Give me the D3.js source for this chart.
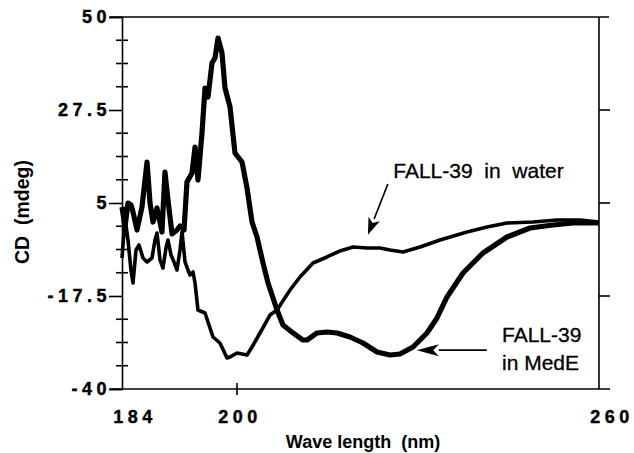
<!DOCTYPE html>
<html>
<head>
<meta charset="utf-8">
<script src="https://cdn.jsdelivr.net/npm/d3@7"></script>
<style>
  body { margin: 0; background: #fff; }
  text { font-family: Arial, "Liberation Sans", Helvetica, sans-serif; fill: #000; }
</style>
</head>
<body>
<script>
// data: wavelength (nm) / CD (mdeg)
const medeNm = [184.00,184.42,184.83,185.25,185.53,186.09,186.78,187.48,187.90,188.31,188.87,189.56,189.98,190.40,190.96,191.65,192.07,192.63,193.04,193.74,194.16,194.57,195.13,195.55,195.97,196.52,196.94,197.36,197.91,198.33,199.03,199.72,200.83,201.66,202.49,203.32,204.31,205.14,206.63,207.62,209.28,210.94,211.60,213.26,214.92,216.58,218.73,220.88,223.21,225.36,227.02,229.17,231.49,233.15,234.81,237.46,240.77,244.75,248.56,252.38,255.69,260.00];
const medeCd = [4.03,-0.81,5.0,4.52,2.82,-1.53,4.03,14.92,5.0,0.40,3.79,-2.02,12.5,5.73,-2.50,-1.53,-0.56,-1.53,10.08,12.26,18.55,10.56,21.94,32.82,30.65,38.87,40.08,44.92,41.29,32.82,28.23,17.10,14.92,8.63,0.40,-3.23,-9.52,-14.35,-20.89,-24.52,-26.45,-28.15,-28.15,-26.45,-26.21,-26.45,-27.42,-28.87,-31.05,-31.77,-31.53,-29.84,-26.45,-22.82,-17.74,-11.94,-7.10,-3.23,-1.05,-0.32,0.16,0.16];

const waterNm = [184.00,184.42,184.83,185.25,185.53,185.95,186.37,186.92,187.48,188.17,188.59,188.87,189.29,189.70,190.12,190.40,190.82,191.23,191.65,192.07,192.35,192.77,193.18,193.46,193.88,194.16,194.57,195.55,196.66,197.63,198.61,199.03,200.00,201.66,202.49,203.81,205.47,206.63,208.79,210.44,212.60,214.92,217.07,219.23,221.55,223.70,225.36,227.52,230.33,233.65,238.12,241.44,244.75,249.06,253.04,256.85,260.00];
const waterCd = [-8.31,1.37,-3.95,-11.21,-14.35,-6.37,-5.16,-8.31,-9.27,-8.31,-3.95,-2.26,-8.79,-10.73,-5.89,-3.95,-7.58,-9.27,-11.21,-6.37,-2.02,-9.27,-11.21,-12.42,-11.69,-14.35,-20.89,-21.61,-27.42,-28.87,-32.50,-32.26,-31.29,-31.77,-29.84,-26.45,-22.10,-20.89,-16.05,-12.90,-9.52,-8.06,-6.61,-5.65,-5.89,-5.89,-6.37,-6.85,-5.65,-3.95,-2.02,-0.81,0.16,0.40,0.89,0.89,0.40];

const yMajor = [-40, -17.5, 5, 27.5, 50];
const yRightTicks = [-17.5, 5, 27.5];
const xTickLabels = [184, 200, 260];

const W = 634, H = 453;
const svg = d3.select("body").append("svg")
  .attr("width", W)
  .attr("height", H);

// the printed x axis is not evenly spaced, so use a two-piece scale
const x = d3.scaleLinear().domain([184, 200, 260]).range([122, 237, 599]);
const y = d3.scaleLinear().domain([-40, 50]).range([389, 17]);

const lineW = 1.6;

// frame
svg.append("line").attr("x1", 110).attr("x2", 609).attr("y1", y(50)).attr("y2", y(50))
  .attr("stroke", "#000").attr("stroke-width", lineW);
svg.append("line").attr("x1", 110).attr("x2", 610).attr("y1", y(-40)).attr("y2", y(-40))
  .attr("stroke", "#000").attr("stroke-width", lineW);
svg.append("line").attr("x1", x(260)).attr("x2", x(260)).attr("y1", y(50)).attr("y2", y(-40))
  .attr("stroke", "#000").attr("stroke-width", lineW);

// left axis
const yAxis = svg.append("g").attr("transform", "translate(" + x(184) + ",0)")
  .call(d3.axisLeft(y).tickValues(yMajor).tickSize(13).tickPadding(-2).tickFormat(d => String(d)));
yAxis.select(".domain").attr("stroke-width", lineW);
yAxis.selectAll(".tick line").attr("stroke-width", lineW);
yAxis.selectAll(".tick text")
  .attr("font-size", 18).attr("font-weight", "bold").attr("letter-spacing", 4.5)
  .attr("stroke", "#000").attr("stroke-width", 0.4)
  .attr("font-family", "Arial, 'Liberation Sans', sans-serif");

// minor ticks on the left axis
const yMinor = d3.range(-40, 50.01, 5.625).filter(v => !yMajor.some(m => Math.abs(m - v) < 0.01));
svg.append("g").selectAll("line").data(yMinor).join("line")
  .attr("x1", x(184) - 6).attr("x2", x(184) + 6)
  .attr("y1", d => y(d)).attr("y2", d => y(d))
  .attr("stroke", "#000").attr("stroke-width", lineW);

// right ticks
svg.append("g").selectAll("line").data(yRightTicks).join("line")
  .attr("x1", x(260)).attr("x2", x(260) + 11)
  .attr("y1", d => y(d)).attr("y2", d => y(d))
  .attr("stroke", "#000").attr("stroke-width", lineW);

// bottom tick at 200
svg.append("line").attr("x1", x(200)).attr("x2", x(200)).attr("y1", y(-40) - 6).attr("y2", y(-40) + 6)
  .attr("stroke", "#000").attr("stroke-width", lineW);

// x tick labels
const xLabelShift = {184: 13, 200: 3, 260: 13};
svg.append("g").selectAll("text").data(xTickLabels).join("text")
  .attr("x", d => x(d) + xLabelShift[d])
  .attr("y", 423)
  .attr("text-anchor", "middle")
  .attr("font-size", 18).attr("font-weight", "bold").attr("letter-spacing", 4.5)
  .attr("stroke", "#000").attr("stroke-width", 0.4)
  .text(d => d);

// axis titles
svg.append("text")
  .attr("x", 363).attr("y", 448)
  .attr("text-anchor", "middle")
  .attr("font-size", 18).attr("font-weight", "bold")
  .style("white-space", "pre")
  .text("Wave length  (nm)");

svg.append("text")
  .attr("transform", "translate(29,212) rotate(-90)")
  .attr("text-anchor", "middle")
  .attr("font-size", 19.5).attr("font-weight", "bold")
  .style("white-space", "pre")
  .text("CD  (mdeg)");

// curves
const line = d3.line().x(d => x(d[0])).y(d => y(d[1]));

svg.append("path")
  .datum(waterNm.map((v, i) => [v, waterCd[i]]))
  .attr("d", line)
  .attr("fill", "none").attr("stroke", "#000").attr("stroke-width", 3.6)
  .attr("stroke-linejoin", "round");

svg.append("path")
  .datum(medeNm.map((v, i) => [v, medeCd[i]]))
  .attr("d", line)
  .attr("fill", "none").attr("stroke", "#000").attr("stroke-width", 5.2)
  .attr("stroke-linejoin", "round");

// annotations
function arrow(x0, y0, x1, y1, len, half) {
  const a = Math.atan2(y1 - y0, x1 - x0);
  const bx = x1 - len * Math.cos(a), by = y1 - len * Math.sin(a);
  svg.append("line").attr("x1", x0).attr("y1", y0).attr("x2", bx).attr("y2", by)
    .attr("stroke", "#000").attr("stroke-width", 1.7);
  const px = -Math.sin(a) * half, py = Math.cos(a) * half;
  const nx = x1 - len * 0.75 * Math.cos(a), ny = y1 - len * 0.75 * Math.sin(a);
  svg.append("path")
    .attr("d", "M" + x1 + "," + y1 + "L" + (bx + px) + "," + (by + py) + "L" + nx + "," + ny +
      "L" + (bx - px) + "," + (by - py) + "Z")
    .attr("fill", "#000");
}

arrow(x(225.0), y(9.6), x(221.7), y(-2.7), 17, 6);
arrow(x(241.4), y(-30.6), x(229.8), y(-30.6), 22, 6);

svg.append("text")
  .attr("x", x(225.9)).attr("y", 178)
  .attr("font-size", 21)
  .attr("stroke", "#000").attr("stroke-width", 0.3)
  .style("white-space", "pre")
  .text("FALL-39  in  water");

svg.append("text")
  .attr("x", 502).attr("y", 342)
  .attr("font-size", 21)
  .attr("stroke", "#000").attr("stroke-width", 0.3)
  .text("FALL-39");
svg.append("text")
  .attr("x", 502).attr("y", 370)
  .attr("font-size", 21)
  .attr("stroke", "#000").attr("stroke-width", 0.3)
  .text("in MedE");
</script>
</body>
</html>
